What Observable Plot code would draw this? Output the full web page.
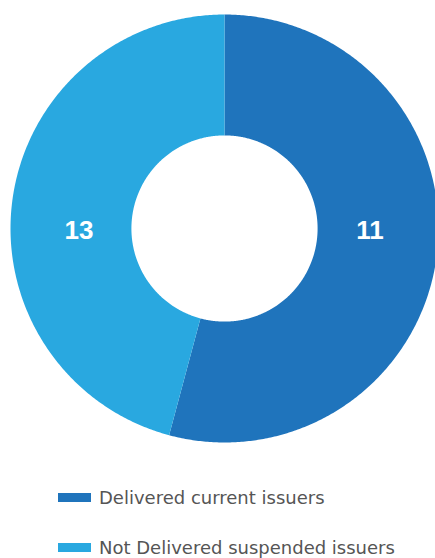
<!DOCTYPE html>
<html>
<head>
<meta charset="utf-8">
<script src="https://cdn.jsdelivr.net/npm/d3@7"></script>
<script src="https://cdn.jsdelivr.net/npm/@observablehq/plot@0.6"></script>
<style>
  html, body { margin: 0; padding: 0; background: #fff; }
  #wrap { position: relative; width: 435px; height: 558px; overflow: hidden; }
  #chart { position: absolute; left: 0; top: 0; }
  .legend { position: absolute; left: 0; top: 0; font-family: "DejaVu Sans", sans-serif; font-size: 18px; color: #555; }
  .item { position: absolute; left: 58px; white-space: nowrap; }
  .sw { position: absolute; left: 0; width: 33px; height: 9px; }
  .lab { position: absolute; left: 41px; line-height: 1; }
</style>
</head>
<body>
<div id="wrap">
  <div id="chart"></div>
  <div class="legend" id="legend"></div>
</div>
<script>
// Data
const categories = ["Delivered current issuers", "Not Delivered suspended issuers"];
const printedCounts = [11, 13];      // numbers printed on the slices
const sliceShares = [13, 11];        // slice sizes as drawn in the reference
const colors = ["#1f74bc", "#29a8e0"];

const W = 435, H = 460;
const cx = 224, cy = 228, R = 214;
const innerRatio = 0.435;
const labelRatio = 0.68;

const pie = d3.pie().sort(null).value(d => d)(sliceShares);

// ring polygons built from the pie angles
const ringPts = [];
pie.forEach((p, i) => {
  const n = Math.max(8, Math.ceil((p.endAngle - p.startAngle) / (Math.PI / 360)));
  for (let k = 0; k <= n; k++) {
    const a = p.startAngle + (p.endAngle - p.startAngle) * k / n;
    ringPts.push({cat: categories[i], x: Math.sin(a), y: Math.cos(a)});
  }
  for (let k = n; k >= 0; k--) {
    const a = p.startAngle + (p.endAngle - p.startAngle) * k / n;
    ringPts.push({cat: categories[i], x: innerRatio * Math.sin(a), y: innerRatio * Math.cos(a)});
  }
});

const labels = pie.map((p, i) => {
  const mid = (p.startAngle + p.endAngle) / 2;
  return {cat: categories[i], text: String(printedCounts[i]), x: Math.sign(Math.sin(mid)) * labelRatio, y: 0};
});

const chart = Plot.plot({
  width: W,
  height: H,
  margin: 0,
  x: {domain: [-1, 1], range: [cx - R, cx + R], axis: null},
  y: {domain: [-1, 1], range: [cy + R, cy - R], axis: null},
  color: {domain: categories, range: colors},
  marks: [
    Plot.line(ringPts, {x: "x", y: "y", z: "cat", fill: "cat", stroke: "none", curve: "linear"}),
    Plot.text(labels, {x: "x", y: "y", text: "text", fill: "white", fontSize: 26, fontWeight: "bold",
      fontFamily: "Liberation Sans, Arial, sans-serif", textAnchor: "middle", dy: 2})
  ]
});
chart.style.overflow = "visible";
document.getElementById("chart").appendChild(chart);

const legend = document.getElementById("legend");
const tops = [489, 539];
categories.forEach((c, i) => {
  const item = document.createElement("div");
  item.className = "item";
  item.style.top = tops[i] + "px";
  const sw = document.createElement("div");
  sw.className = "sw";
  sw.style.background = colors[i];
  sw.style.top = "4px";
  const lab = document.createElement("div");
  lab.className = "lab";
  lab.textContent = c;
  item.appendChild(sw);
  item.appendChild(lab);
  legend.appendChild(item);
});
</script>
</body>
</html>
